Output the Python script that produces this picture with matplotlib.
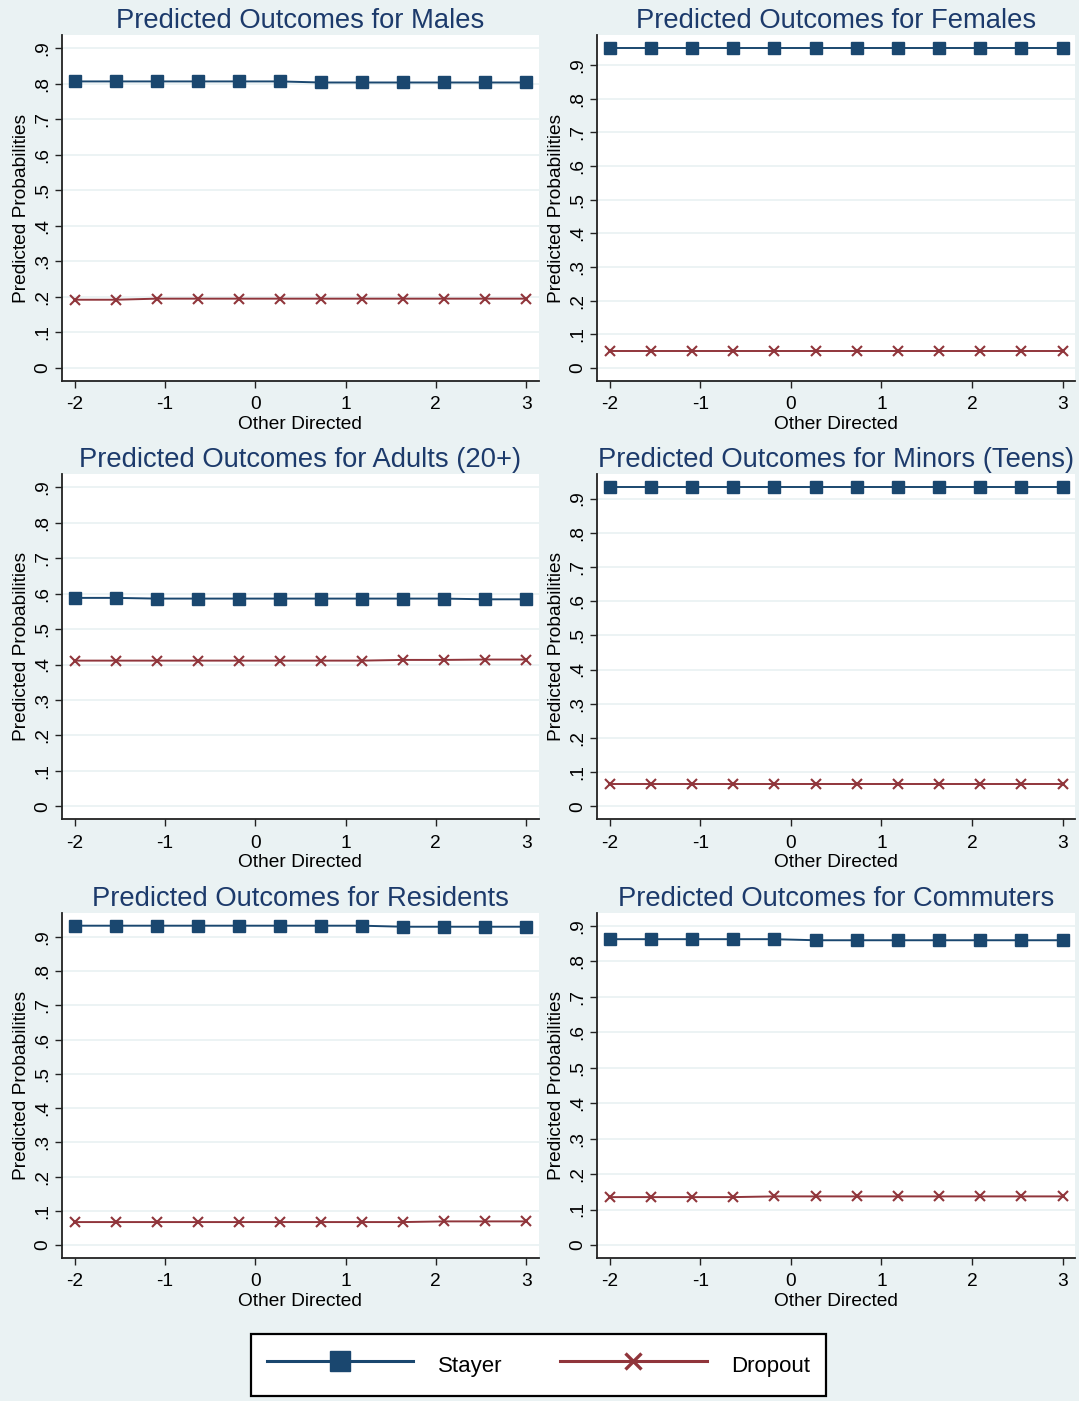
import matplotlib
matplotlib.use("Agg")
import matplotlib.pyplot as plt
from matplotlib.lines import Line2D

plt.rcParams["font.family"] = ["Liberation Sans", "DejaVu Sans"]

# ---- data -------------------------------------------------------------
other_directed = [-2.0, -1.545, -1.091, -0.636, -0.182, 0.273,
                  0.727, 1.182, 1.636, 2.091, 2.545, 3.0]

titles = ["Predicted Outcomes for Males", "Predicted Outcomes for Females",
          "Predicted Outcomes for Adults (20+)", "Predicted Outcomes for Minors (Teens)",
          "Predicted Outcomes for Residents", "Predicted Outcomes for Commuters"]

males_stayer = [0.806, 0.806, 0.806, 0.806, 0.806, 0.806,
                0.803, 0.803, 0.803, 0.803, 0.803, 0.803]
males_dropout = [0.192, 0.192, 0.195, 0.195, 0.195, 0.195,
                 0.195, 0.195, 0.195, 0.195, 0.195, 0.195]

females_stayer = [0.950, 0.950, 0.950, 0.950, 0.950, 0.950,
                  0.950, 0.950, 0.950, 0.950, 0.950, 0.950]
females_dropout = [0.050, 0.050, 0.050, 0.050, 0.050, 0.050,
                   0.050, 0.050, 0.050, 0.050, 0.050, 0.050]

adults_stayer = [0.588, 0.588, 0.586, 0.586, 0.586, 0.586,
                 0.586, 0.586, 0.586, 0.586, 0.584, 0.584]
adults_dropout = [0.411, 0.411, 0.411, 0.411, 0.411, 0.411,
                  0.411, 0.411, 0.413, 0.413, 0.414, 0.414]

minors_stayer = [0.933, 0.933, 0.933, 0.933, 0.933, 0.933,
                 0.933, 0.933, 0.933, 0.933, 0.933, 0.933]
minors_dropout = [0.066, 0.066, 0.066, 0.066, 0.066, 0.066,
                  0.066, 0.066, 0.066, 0.066, 0.066, 0.066]

residents_stayer = [0.933, 0.933, 0.933, 0.933, 0.933, 0.933,
                    0.933, 0.933, 0.930, 0.930, 0.930, 0.930]
residents_dropout = [0.067, 0.067, 0.067, 0.067, 0.067, 0.067,
                     0.067, 0.067, 0.067, 0.069, 0.069, 0.069]

commuters_stayer = [0.862, 0.862, 0.862, 0.862, 0.862, 0.859,
                    0.859, 0.859, 0.859, 0.859, 0.859, 0.859]
commuters_dropout = [0.135, 0.135, 0.135, 0.135, 0.137, 0.137,
                     0.137, 0.137, 0.137, 0.137, 0.137, 0.137]

stayer_series = [males_stayer, females_stayer, adults_stayer,
                 minors_stayer, residents_stayer, commuters_stayer]
dropout_series = [males_dropout, females_dropout, adults_dropout,
                  minors_dropout, residents_dropout, commuters_dropout]

y_ticks = [0.0, 0.1, 0.2, 0.3, 0.4, 0.5, 0.6, 0.7, 0.8, 0.9]
y_tick_labels = ["0", ".1", ".2", ".3", ".4", ".5", ".6", ".7", ".8", ".9"]
x_ticks = [-2, -1, 0, 1, 2, 3]
x_tick_labels = ["-2", "-1", "0", "1", "2", "3"]

# ---- style ------------------------------------------------------------
BG = "#EAF2F3"
NAVY = "#1A476F"
MAROON = "#90353B"
TITLE_C = "#1C3A6B"
AXIS_C = "#222222"

W, H = 1079, 1401
fig = plt.figure(figsize=(W / 100, H / 100), dpi=100, facecolor=BG)

col_x = [(62, 538.7), (597.3, 1075)]
row_y = [(35, 381), (474.3, 819.3), (912.7, 1258)]


def px_axes(x0, x1, y0, y1):
    return fig.add_axes([x0 / W, 1 - y1 / H, (x1 - x0) / W, (y1 - y0) / H])


for i in range(6):
    r, c = divmod(i, 2)
    (x0, x1), (y0, y1) = col_x[c], row_y[r]
    ax = px_axes(x0, x1, y0, y1)
    ax.set_facecolor("white")

    stayer = stayer_series[i]
    dropout = dropout_series[i]

    # y range padded by a fixed pixel margin, x range likewise
    hi = max(0.9, max(stayer))
    lo = 0.0
    plot_h = y1 - y0
    m = (hi - lo) * 13 / (plot_h - 26)
    ax.set_ylim(lo - m, hi + m)
    plot_w = x1 - x0
    mx = 5 * 12.5 / (plot_w - 25)
    ax.set_xlim(-2 - mx, 3 + mx)

    for yt in y_ticks:
        ax.axhline(yt, color=BG, lw=1.3, zorder=0)

    ax.plot(other_directed, dropout, color=MAROON, lw=1.4, marker="x",
            ms=6.5, mew=1.5, zorder=3)
    ax.plot(other_directed, stayer, color=NAVY, lw=1.4, marker="s",
            ms=8, mec=NAVY, mfc=NAVY, zorder=4)

    ax.set_yticks(y_ticks)
    ax.set_yticklabels(y_tick_labels, rotation=90, va="center")
    ax.set_xticks(x_ticks)
    ax.set_xticklabels(x_tick_labels)
    ax.tick_params(axis="both", direction="out", length=5, width=1.0,
                   color=AXIS_C, labelsize=13.8, labelcolor="black")
    ax.tick_params(axis="x", pad=6)
    ax.tick_params(axis="y", pad=3)

    for s in ("top", "right"):
        ax.spines[s].set_visible(False)
    for s in ("left", "bottom"):
        ax.spines[s].set_color(AXIS_C)
        ax.spines[s].set_linewidth(1.3)

    ax.set_xlabel("Other Directed", fontsize=13.8, labelpad=2)
    ax.set_ylabel("Predicted Probabilities", fontsize=13.8, labelpad=3)
    ax.set_title(titles[i], fontsize=19.7, color=TITLE_C, pad=5)

# ---- legend -----------------------------------------------------------
handles = [
    Line2D([], [], color=NAVY, lw=2.2, marker="s", ms=14, mfc=NAVY, mec=NAVY),
    Line2D([], [], color=MAROON, lw=2.2, marker="x", ms=12, mew=2.4),
]
leg = fig.legend(handles, ["Stayer", "Dropout"], loc="center",
                 bbox_to_anchor=(538.5 / W, 1 - 1365 / H), ncol=2,
                 fontsize=16, frameon=True, fancybox=False, framealpha=1,
                 handlelength=6.6, handleheight=1.7, handletextpad=1.1,
                 columnspacing=2.6, borderpad=0.72, borderaxespad=0)
leg.get_frame().set_edgecolor("black")
leg.get_frame().set_linewidth(1.6)
leg.get_frame().set_facecolor("white")

fig.savefig("out.png", dpi=100, facecolor=BG)
